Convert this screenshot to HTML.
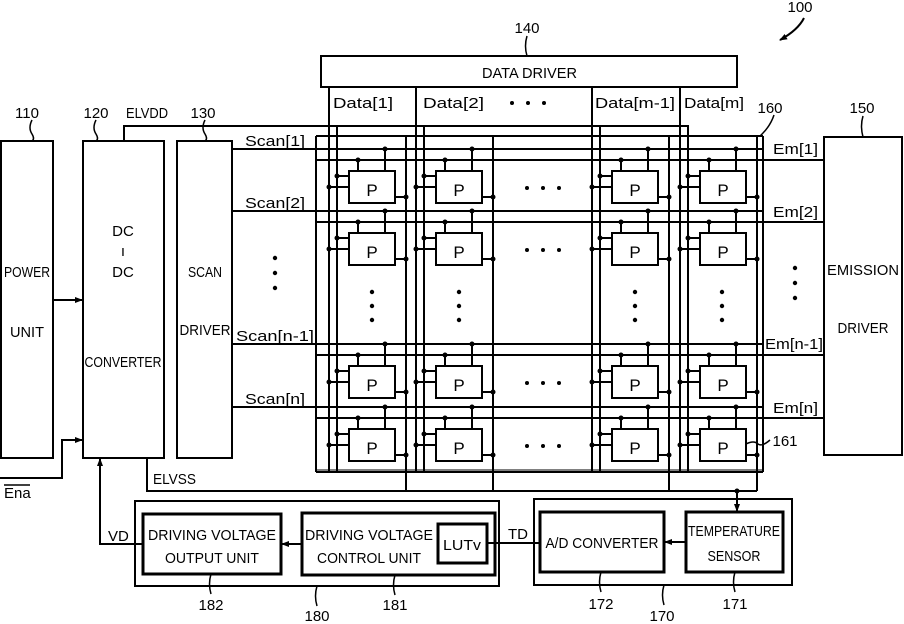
<!DOCTYPE html>
<html><head><meta charset="utf-8"><style>
html,body{margin:0;padding:0;background:#fff;}
svg{display:block;}
text{font-family:"Liberation Sans",sans-serif;fill:#000;}
</style></head><body>
<svg width="904" height="624" viewBox="0 0 904 624" xmlns="http://www.w3.org/2000/svg">
<defs>
<marker id="ah" markerWidth="8" markerHeight="8" refX="7" refY="4" orient="auto" markerUnits="userSpaceOnUse"><path d="M0,1 L8,4 L0,7 Z" fill="#000"/></marker>
<g id="cell" stroke="#000" stroke-width="2" fill="none">
<rect x="20" y="22" width="46" height="32" fill="#fff"/>
<line x1="29" y1="11" x2="29" y2="22"/>
<line x1="56" y1="0" x2="56" y2="22"/>
<line x1="8" y1="27" x2="20" y2="27"/>
<line x1="0" y1="38" x2="20" y2="38"/>
<line x1="66" y1="48" x2="77" y2="48"/>
<g fill="#000" stroke="none">
<circle cx="29" cy="11" r="2.5"/><circle cx="56" cy="0" r="2.5"/>
<circle cx="8" cy="27" r="2.5"/><circle cx="0" cy="38" r="2.5"/><circle cx="77" cy="48" r="2.5"/>
</g>
</g>
</defs>
<g stroke="#000" stroke-width="2" fill="none">
<rect x="1" y="141" width="52" height="317"/>
<rect x="83" y="141" width="81" height="317"/>
<rect x="177" y="141" width="55" height="317"/>
<rect x="824" y="137" width="78" height="318"/>
<rect x="321" y="56" width="416" height="31"/>
<line x1="53" y1="300" x2="82" y2="300" marker-end="url(#ah)"/>
<polyline points="0,478 62,478 62,440 82,440" marker-end="url(#ah)"/>
<polyline points="143,544 100,544 100,459" marker-end="url(#ah)"/>
<polyline points="124,141 124,126 688,126 688,472"/>
<polyline points="147,458 147,491 757,491"/>
<line x1="316" y1="136" x2="763" y2="136"/>
<line x1="316" y1="136" x2="316" y2="472"/>
<line x1="316" y1="472" x2="763" y2="472"/>
<line x1="763" y1="136" x2="763" y2="472"/>
<line x1="232" y1="149" x2="763" y2="149"/>
<line x1="232" y1="211" x2="763" y2="211"/>
<line x1="232" y1="344" x2="763" y2="344"/>
<line x1="232" y1="407" x2="763" y2="407"/>
<line x1="316" y1="160" x2="824" y2="160"/>
<line x1="316" y1="222" x2="824" y2="222"/>
<line x1="316" y1="355" x2="824" y2="355"/>
<line x1="316" y1="418" x2="824" y2="418"/>
<line x1="316" y1="470" x2="763" y2="470" stroke-width="1"/>
<line x1="329" y1="87" x2="329" y2="472"/><line x1="337" y1="126" x2="337" y2="472"/><line x1="406" y1="136" x2="406" y2="491"/>
<line x1="416" y1="87" x2="416" y2="472"/><line x1="424" y1="126" x2="424" y2="472"/><line x1="493" y1="136" x2="493" y2="491"/>
<line x1="592" y1="87" x2="592" y2="472"/><line x1="600" y1="126" x2="600" y2="472"/><line x1="669" y1="136" x2="669" y2="491"/>
<line x1="680" y1="87" x2="680" y2="472"/><line x1="757" y1="136" x2="757" y2="491"/>
<rect x="135" y="501" width="364" height="85"/>
<rect x="143" y="514" width="138" height="60" stroke-width="3"/>
<rect x="302" y="513" width="193" height="62" stroke-width="3"/>
<rect x="438" y="524" width="49" height="39" stroke-width="3"/>
<rect x="534" y="499" width="258" height="86"/>
<rect x="540" y="512" width="124" height="60" stroke-width="3"/>
<rect x="686" y="512" width="97" height="60" stroke-width="3"/>
<line x1="737" y1="491" x2="737" y2="511" marker-end="url(#ah)"/>
<line x1="686" y1="542" x2="665" y2="542" marker-end="url(#ah)"/>
<line x1="540" y1="543" x2="499" y2="543"/>
<line x1="302" y1="544" x2="282" y2="544" marker-end="url(#ah)"/>
<line x1="487" y1="543" x2="499" y2="543"/>
<path d="M32,120 q-4,8 0,14 q3,5 0,7" stroke-width="1.5"/>
<path d="M96,120 q-4,8 0,14 q3,5 0,7" stroke-width="1.5"/>
<path d="M205,120 q-4,8 0,14 q3,5 0,7" stroke-width="1.5"/>
<path d="M527,36 q-3,10 0,20" stroke-width="1.5"/>
<path d="M863,116 q-3,10 0,21" stroke-width="1.5"/>
<path d="M774,115 q-4,12 -14,21" stroke-width="1.5"/>
<path d="M746,444 q8,-4 12,0 q4,3 12,-4" stroke-width="1.5"/>
<path d="M804,18 q-6,12 -24,22" stroke-width="2" marker-end="url(#ah)"/>
<path d="M211,574 q-3,10 0,20" stroke-width="1.5"/>
<path d="M395,575 q-3,10 0,20" stroke-width="1.5"/>
<path d="M317,586 q-3,10 0,20" stroke-width="1.5"/>
<path d="M601,572 q-3,10 0,20" stroke-width="1.5"/>
<path d="M664,585 q-3,10 0,20" stroke-width="1.5"/>
<path d="M735,572 q-3,10 0,20" stroke-width="1.5"/>
</g>
<circle cx="737" cy="491" r="2.5"/>
<use href="#cell" x="329" y="149"/><use href="#cell" x="416" y="149"/><use href="#cell" x="592" y="149"/><use href="#cell" x="680" y="149"/>
<use href="#cell" x="329" y="211"/><use href="#cell" x="416" y="211"/><use href="#cell" x="592" y="211"/><use href="#cell" x="680" y="211"/>
<use href="#cell" x="329" y="344"/><use href="#cell" x="416" y="344"/><use href="#cell" x="592" y="344"/><use href="#cell" x="680" y="344"/>
<use href="#cell" x="329" y="407"/><use href="#cell" x="416" y="407"/><use href="#cell" x="592" y="407"/><use href="#cell" x="680" y="407"/>
<g font-size="17" text-anchor="middle">
<text x="372" y="196">P</text><text x="459" y="196">P</text><text x="635" y="196">P</text><text x="723" y="196">P</text>
<text x="372" y="258">P</text><text x="459" y="258">P</text><text x="635" y="258">P</text><text x="723" y="258">P</text>
<text x="372" y="391">P</text><text x="459" y="391">P</text><text x="635" y="391">P</text><text x="723" y="391">P</text>
<text x="372" y="454">P</text><text x="459" y="454">P</text><text x="635" y="454">P</text><text x="723" y="454">P</text>
</g>
<g fill="#000">
<circle cx="275" cy="258" r="2.2"/><circle cx="275" cy="273" r="2.2"/><circle cx="275" cy="288" r="2.2"/>
<circle cx="795" cy="268" r="2.2"/><circle cx="795" cy="283" r="2.2"/><circle cx="795" cy="298" r="2.2"/>
<circle cx="372" cy="292" r="2.2"/><circle cx="372" cy="306" r="2.2"/><circle cx="372" cy="320" r="2.2"/>
<circle cx="459" cy="292" r="2.2"/><circle cx="459" cy="306" r="2.2"/><circle cx="459" cy="320" r="2.2"/>
<circle cx="635" cy="292" r="2.2"/><circle cx="635" cy="306" r="2.2"/><circle cx="635" cy="320" r="2.2"/>
<circle cx="722" cy="292" r="2.2"/><circle cx="722" cy="306" r="2.2"/><circle cx="722" cy="320" r="2.2"/>
<circle cx="527" cy="188" r="2"/><circle cx="543" cy="188" r="2"/><circle cx="559" cy="188" r="2"/>
<circle cx="527" cy="250" r="2"/><circle cx="543" cy="250" r="2"/><circle cx="559" cy="250" r="2"/>
<circle cx="527" cy="383" r="2"/><circle cx="543" cy="383" r="2"/><circle cx="559" cy="383" r="2"/>
<circle cx="527" cy="446" r="2"/><circle cx="543" cy="446" r="2"/><circle cx="559" cy="446" r="2"/>
<circle cx="512" cy="103" r="2"/><circle cx="528" cy="103" r="2"/><circle cx="544" cy="103" r="2"/>
</g>
<g font-size="15">
<text x="482" y="78" textLength="95" lengthAdjust="spacingAndGlyphs">DATA DRIVER</text>
<text x="333" y="108" textLength="60" lengthAdjust="spacingAndGlyphs">Data[1]</text>
<text x="423" y="108" textLength="61" lengthAdjust="spacingAndGlyphs">Data[2]</text>
<text x="595" y="108" textLength="80" lengthAdjust="spacingAndGlyphs">Data[m-1]</text>
<text x="684" y="108" textLength="60" lengthAdjust="spacingAndGlyphs">Data[m]</text>
<text x="245" y="146" textLength="60" lengthAdjust="spacingAndGlyphs">Scan[1]</text>
<text x="245" y="208" textLength="60" lengthAdjust="spacingAndGlyphs">Scan[2]</text>
<text x="236" y="341" textLength="78" lengthAdjust="spacingAndGlyphs">Scan[n-1]</text>
<text x="245" y="404" textLength="60" lengthAdjust="spacingAndGlyphs">Scan[n]</text>
<text x="773" y="154" textLength="45" lengthAdjust="spacingAndGlyphs">Em[1]</text>
<text x="773" y="217" textLength="45" lengthAdjust="spacingAndGlyphs">Em[2]</text>
<text x="765" y="349" textLength="58" lengthAdjust="spacingAndGlyphs">Em[n-1]</text>
<text x="773" y="413" textLength="45" lengthAdjust="spacingAndGlyphs">Em[n]</text>
<text x="126" y="118" textLength="42" lengthAdjust="spacingAndGlyphs">ELVDD</text>
<text x="153" y="484" textLength="43" lengthAdjust="spacingAndGlyphs">ELVSS</text>
<text x="4" y="498">Ena</text>
<text x="108" y="541">VD</text>
<text x="508" y="539">TD</text>
</g>
<line x1="4" y1="485" x2="30" y2="485" stroke="#000" stroke-width="1.5"/>
<g font-size="15" text-anchor="middle">
<text x="27" y="277" textLength="46" lengthAdjust="spacingAndGlyphs">POWER</text>
<text x="27" y="337" textLength="34" lengthAdjust="spacingAndGlyphs">UNIT</text>
<text x="123" y="236">DC</text>
<text x="123" y="256">ı</text>
<text x="123" y="277">DC</text>
<text x="123" y="367" textLength="77" lengthAdjust="spacingAndGlyphs">CONVERTER</text>
<text x="205" y="277" textLength="34" lengthAdjust="spacingAndGlyphs">SCAN</text>
<text x="205" y="335" textLength="51" lengthAdjust="spacingAndGlyphs">DRIVER</text>
<text x="863" y="275" textLength="72" lengthAdjust="spacingAndGlyphs">EMISSION</text>
<text x="863" y="333" textLength="51" lengthAdjust="spacingAndGlyphs">DRIVER</text>
<text x="212" y="540" textLength="128" lengthAdjust="spacingAndGlyphs">DRIVING VOLTAGE</text>
<text x="212" y="563" textLength="94" lengthAdjust="spacingAndGlyphs">OUTPUT UNIT</text>
<text x="369" y="540" textLength="128" lengthAdjust="spacingAndGlyphs">DRIVING VOLTAGE</text>
<text x="369" y="563" textLength="104" lengthAdjust="spacingAndGlyphs">CONTROL UNIT</text>
<text x="462" y="550" textLength="38" lengthAdjust="spacingAndGlyphs">LUTv</text>
<text x="602" y="548" textLength="113" lengthAdjust="spacingAndGlyphs">A/D CONVERTER</text>
<text x="734" y="536" textLength="92" lengthAdjust="spacingAndGlyphs">TEMPERATURE</text>
<text x="734" y="561" textLength="53" lengthAdjust="spacingAndGlyphs">SENSOR</text>
<text x="27" y="118">110</text>
<text x="96" y="118">120</text>
<text x="203" y="118">130</text>
<text x="527" y="33">140</text>
<text x="862" y="113">150</text>
<text x="770" y="113">160</text>
<text x="800" y="12">100</text>
<text x="785" y="446">161</text>
<text x="211" y="610">182</text>
<text x="395" y="610">181</text>
<text x="317" y="621">180</text>
<text x="601" y="609">172</text>
<text x="662" y="621">170</text>
<text x="735" y="609">171</text>
</g>
</svg>
</body></html>
